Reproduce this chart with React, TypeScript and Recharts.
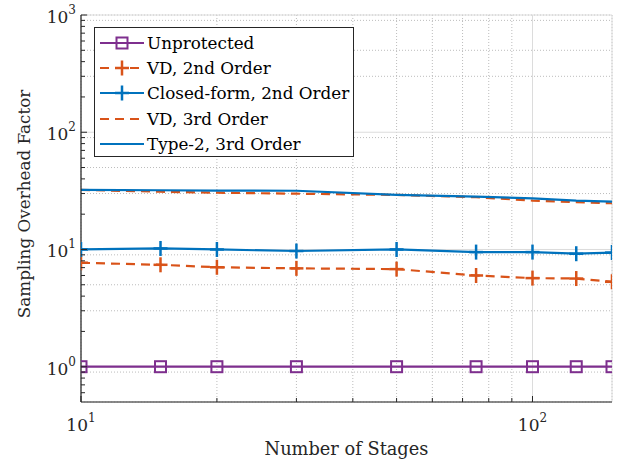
import { LineChart, Line, XAxis, YAxis, CartesianGrid, Legend } from "recharts";

const STAGES = [10, 15, 20, 30, 50, 75, 100, 125, 150];
const UNPROTECTED = [1, 1, 1, 1, 1, 1, 1, 1, 1];
const VD_2ND = [7.7, 7.4, 7.05, 6.9, 6.8, 6.0, 5.7, 5.65, 5.3];
const CLOSED_2ND = [10.0, 10.2, 10.0, 9.7, 10.0, 9.5, 9.5, 9.2, 9.4];
const VD_3RD = [32.2, 31.1, 30.5, 29.9, 29.2, 27.9, 26.1, 25.3, 24.8];
const TYPE2_3RD = [32.2, 32.0, 31.8, 31.7, 29.2, 28.2, 27.3, 26.1, 25.6];

const X_DOMAIN = [10, 150];
const Y_DOMAIN = [0.5, 1000];
const X_MAJOR = [10, 100];
const X_MINOR = [20, 30, 40, 50, 60, 70, 80, 90];
const Y_MAJOR = [1, 10, 100, 1000];
const Y_MINOR = [
  0.6, 0.7, 0.8, 0.9, 2, 3, 4, 5, 6, 7, 8, 9, 20, 30, 40, 50, 60, 70, 80, 90,
  200, 300, 400, 500, 600, 700, 800, 900,
];

const PURPLE = "#7E2F8E";
const ORANGE = "#D95319";
const BLUE = "#0072BD";
const AXIS = "#262626";
const FONT = "DejaVu Serif, serif";

const data = STAGES.map((s, i) => ({
  stages: s,
  unprotected: UNPROTECTED[i],
  vd2: VD_2ND[i],
  closed2: CLOSED_2ND[i],
  vd3: VD_3RD[i],
  type2: TYPE2_3RD[i],
}));

const series = [
  { key: "unprotected", name: "Unprotected", color: PURPLE, dash: undefined, marker: "square" },
  { key: "vd2", name: "VD, 2nd Order", color: ORANGE, dash: "9 6", marker: "plus" },
  { key: "closed2", name: "Closed-form, 2nd Order", color: BLUE, dash: undefined, marker: "plus" },
  { key: "vd3", name: "VD, 3rd Order", color: ORANGE, dash: "9 6", marker: "none" },
  { key: "type2", name: "Type-2, 3rd Order", color: BLUE, dash: undefined, marker: "none" },
];

const exp10 = (v: number) => Math.round(Math.log10(v));

function Marker({ kind, cx, cy, color }: { kind: string; cx: number; cy: number; color: string }) {
  if (kind === "square") {
    return <rect x={cx - 5.5} y={cy - 5.5} width={11} height={11} fill="none" stroke={color} strokeWidth={2} />;
  }
  if (kind === "plus") {
    return (
      <g stroke={color} strokeWidth={2.5}>
        <line x1={cx - 7} x2={cx + 7} y1={cy} y2={cy} />
        <line x1={cx} x2={cx} y1={cy - 7.5} y2={cy + 7.5} />
      </g>
    );
  }
  return null;
}

function BottomTick(props: any) {
  const { x, y, payload } = props;
  const major = X_MAJOR.includes(payload.value);
  return (
    <g>
      <line x1={x} x2={x} y1={y} y2={y - (major ? 6 : 4)} stroke={AXIS} />
      {major && (
        <text x={x} y={y + 29} textAnchor="middle" style={{ fontFamily: FONT }} fontSize={17} fill={AXIS}>
          10
          <tspan dy={-9} fontSize={12}>{exp10(payload.value)}</tspan>
        </text>
      )}
    </g>
  );
}

function TopTick(props: any) {
  const { x, y, payload } = props;
  const major = X_MAJOR.includes(payload.value);
  return <line x1={x} x2={x} y1={y} y2={y + (major ? 6 : 4)} stroke={AXIS} />;
}

function LeftTick(props: any) {
  const { x, y, payload } = props;
  const major = Y_MAJOR.includes(payload.value);
  return (
    <g>
      <line x1={x} x2={x + (major ? 6 : 4)} y1={y} y2={y} stroke={AXIS} />
      {major && (
        <text x={x - 5} y={y + 8} textAnchor="end" style={{ fontFamily: FONT }} fontSize={17} fill={AXIS}>
          10
          <tspan dy={-9} fontSize={12}>{exp10(payload.value)}</tspan>
        </text>
      )}
    </g>
  );
}

function RightTick(props: any) {
  const { x, y, payload } = props;
  const major = Y_MAJOR.includes(payload.value);
  return <line x1={x} x2={x - (major ? 6 : 4)} y1={y} y2={y} stroke={AXIS} />;
}

function LegendBox() {
  return (
    <div
      style={{
        width: 260,
        height: 130,
        boxSizing: "border-box",
        border: `1.3px solid ${AXIS}`,
        background: "#fff",
        padding: "2px 0 0 4px",
        fontFamily: FONT,
        fontSize: 16.8,
        color: "#000",
      }}
    >
      {series.map((s) => (
        <div key={s.key} style={{ display: "flex", alignItems: "center", height: 25.4, whiteSpace: "nowrap" }}>
          <svg width={48} height={22} style={{ flex: "none" }}>
            <line x1={1} x2={45} y1={11} y2={11} stroke={s.color} strokeWidth={2.2} strokeDasharray={s.dash} />
            <Marker kind={s.marker} cx={23} cy={11} color={s.color} />
          </svg>
          <span style={{ fontFamily: FONT }}>{s.name}</span>
        </div>
      ))}
    </div>
  );
}

export default function App() {
  return (
    <div style={{ position: "absolute", left: 0, top: 0, background: "#fff", fontFamily: FONT }}>
      <LineChart width={628} height={460} data={data} margin={{ top: 15, right: 16, left: 0, bottom: 0 }}>
        <XAxis xAxisId="gmin" dataKey="stages" type="number" scale="log" domain={X_DOMAIN} ticks={X_MINOR} allowDataOverflow hide />
        <YAxis yAxisId="gmin" type="number" scale="log" domain={Y_DOMAIN} ticks={Y_MINOR} allowDataOverflow hide />
        <XAxis xAxisId="gmaj" dataKey="stages" type="number" scale="log" domain={X_DOMAIN} ticks={X_MAJOR} allowDataOverflow hide />
        <YAxis yAxisId="gmaj" type="number" scale="log" domain={Y_DOMAIN} ticks={Y_MAJOR} allowDataOverflow hide />
        <CartesianGrid xAxisId="gmin" yAxisId="gmin" stroke="#bcbcbc" strokeDasharray="1 2" />
        <CartesianGrid xAxisId="gmaj" yAxisId="gmaj" stroke="#dcdcdc" />
        <XAxis
          dataKey="stages"
          type="number"
          scale="log"
          domain={X_DOMAIN}
          ticks={[...X_MAJOR, ...X_MINOR]}
          interval={0}
          allowDataOverflow
          height={58}
          tickSize={0}
          tickMargin={0}
          tickLine={false}
          tick={<BottomTick />}
          axisLine={{ stroke: AXIS, strokeWidth: 1.2 }}
          label={{
            content: () => (
              <text x={346.5} y={455} textAnchor="middle" style={{ fontFamily: FONT }} fontSize={17.8} fill={AXIS}>
                Number of Stages
              </text>
            ),
          }}
        />
        <XAxis
          xAxisId="top"
          orientation="top"
          dataKey="stages"
          type="number"
          scale="log"
          domain={X_DOMAIN}
          ticks={[...X_MAJOR, ...X_MINOR]}
          interval={0}
          allowDataOverflow
          height={0}
          tickSize={0}
          tickMargin={0}
          tickLine={false}
          tick={<TopTick />}
          axisLine={{ stroke: AXIS, strokeWidth: 1.2 }}
        />
        <YAxis
          type="number"
          scale="log"
          domain={Y_DOMAIN}
          ticks={[...Y_MAJOR, ...Y_MINOR]}
          interval={0}
          allowDataOverflow
          width={81}
          tickSize={0}
          tickMargin={0}
          tickLine={false}
          tick={<LeftTick />}
          axisLine={{ stroke: AXIS, strokeWidth: 1.2 }}
          label={{
            content: () => (
              <text
                x={30}
                y={204}
                transform="rotate(-90 30 204)"
                textAnchor="middle"
                style={{ fontFamily: FONT }}
                fontSize={16.8}
                fill={AXIS}
              >
                Sampling Overhead Factor
              </text>
            ),
          }}
        />
        <YAxis
          yAxisId="right"
          orientation="right"
          type="number"
          scale="log"
          domain={Y_DOMAIN}
          ticks={[...Y_MAJOR, ...Y_MINOR]}
          interval={0}
          allowDataOverflow
          width={0}
          tickSize={0}
          tickMargin={0}
          tickLine={false}
          tick={<RightTick />}
          axisLine={{ stroke: AXIS, strokeWidth: 1.2 }}
        />
        {series.map((s) => (
          <Line
            key={s.key}
            dataKey={s.key}
            name={s.name}
            type="linear"
            stroke={s.color}
            strokeWidth={2.2}
            strokeDasharray={s.dash}
            isAnimationActive={false}
            dot={(p: any) => <Marker key={`${s.key}-${p.index}`} kind={s.marker} cx={p.cx} cy={p.cy} color={s.color} />}
            activeDot={false}
          />
        ))}
        <Legend
          layout="vertical"
          align="center"
          verticalAlign="middle"
          wrapperStyle={{ left: 94, top: 27, width: 260, height: 130 }}
          content={() => <LegendBox />}
        />
      </LineChart>
    </div>
  );
}
